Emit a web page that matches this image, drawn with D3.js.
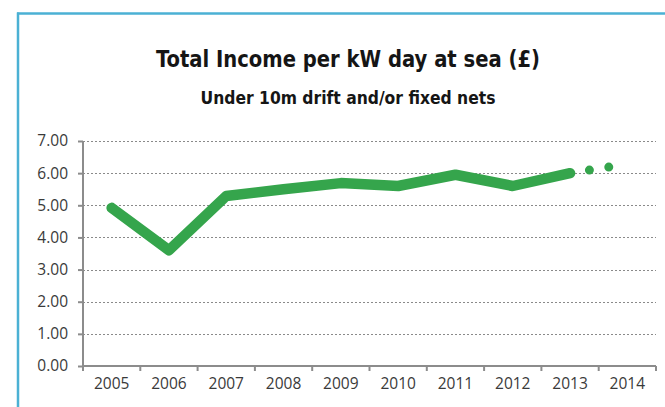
<!DOCTYPE html>
<html>
<head>
<meta charset="utf-8">
<script src="https://cdn.jsdelivr.net/npm/d3@7/dist/d3.min.js"></script>
<style>
  html, body { margin: 0; padding: 0; background: #ffffff; }
  svg { display: block; }
</style>
</head>
<body>
<svg id="chart" width="665" height="407"></svg>
<script>
// Total income per kW day at sea (£), under 10m drift and/or fixed nets
const years = ["2005", "2006", "2007", "2008", "2009", "2010", "2011", "2012", "2013", "2014"];
const income = [4.92, 3.60, 5.29, 5.50, 5.69, 5.60, 5.95, 5.60, 6.00, 6.28];
// the last year is a projection, drawn dotted from 2013
const projectedFrom = "2013";
const yTicks = [0, 1, 2, 3, 4, 5, 6, 7];

const titleText = "Total Income per kW day at sea (£)";
const subtitleText = "Under 10m drift and/or fixed nets";

const svg = d3.select("#chart");
const W = 665, H = 407;
const plot = { left: 83, right: 656, top: 141, bottom: 366 };

const green = "#35a54c";
const axisGrey = "#8c8c8c";
const labelColour = "#3a3a3a";
const labelFont = "'Open Sans', sans-serif";

// frame lines along the top and left edge
svg.append("line")
  .attr("x1", 17).attr("x2", W).attr("y1", 13.5).attr("y2", 13.5)
  .attr("stroke", "#4bb1d4").attr("stroke-width", 2.5);
svg.append("line")
  .attr("x1", 18).attr("x2", 18).attr("y1", 12.5).attr("y2", H)
  .attr("stroke", "#4bb1d4").attr("stroke-width", 2.5);

// titles
svg.append("text")
  .attr("x", 348).attr("y", 66.5)
  .attr("text-anchor", "middle")
  .attr("font-family", "'DejaVu Sans Condensed', 'DejaVu Sans', sans-serif")
  .attr("font-weight", "bold")
  .attr("font-size", 23.5)
  .attr("fill", "#151515")
  .attr("textLength", 384).attr("lengthAdjust", "spacingAndGlyphs")
  .text(titleText);
svg.append("text")
  .attr("x", 348).attr("y", 103.5)
  .attr("text-anchor", "middle")
  .attr("font-family", "'DejaVu Sans Condensed', 'DejaVu Sans', sans-serif")
  .attr("font-weight", "bold")
  .attr("font-size", 17.5)
  .attr("fill", "#151515")
  .attr("textLength", 295).attr("lengthAdjust", "spacingAndGlyphs")
  .text(subtitleText);

const x = d3.scaleBand().domain(years).range([plot.left, plot.right]).padding(0);
const y = d3.scaleLinear().domain([0, 7]).range([plot.bottom, plot.top]);

// dotted horizontal gridlines
svg.append("g")
  .selectAll("line")
  .data(yTicks.filter(d => d > 0))
  .join("line")
  .attr("x1", plot.left).attr("x2", plot.right)
  .attr("y1", d => Math.round(y(d)) + 0.5).attr("y2", d => Math.round(y(d)) + 0.5)
  .attr("stroke", "#8a8a8a")
  .attr("stroke-width", 1.2)
  .attr("stroke-dasharray", "2,2");

// y axis
const yAxis = d3.axisLeft(y)
  .tickValues(yTicks)
  .tickFormat(d3.format(".2f"))
  .tickSize(5)
  .tickPadding(10);
const gy = svg.append("g")
  .attr("transform", `translate(${plot.left},0)`)
  .call(yAxis);
gy.select(".domain").attr("stroke", axisGrey).attr("stroke-width", 2)
  .attr("d", `M0,${plot.top}V${plot.bottom}`);
gy.selectAll(".tick line").attr("stroke", axisGrey).attr("stroke-width", 2);
gy.selectAll(".tick text")
  .attr("font-family", labelFont)
  .attr("font-size", 15.5)
  .attr("fill", labelColour);

// x axis: ticks at category boundaries, labels centred in each band
const gx = svg.append("g").attr("transform", `translate(0,${plot.bottom})`);
gx.append("line")
  .attr("x1", plot.left).attr("x2", plot.right)
  .attr("y1", 0).attr("y2", 0)
  .attr("stroke", axisGrey).attr("stroke-width", 2);
const boundaries = years.map(d => x(d)).concat([x(years[years.length - 1]) + x.bandwidth()]);
gx.selectAll("line.tick")
  .data(boundaries)
  .join("line")
  .attr("class", "tick")
  .attr("x1", d => d).attr("x2", d => d)
  .attr("y1", 0).attr("y2", 5)
  .attr("stroke", axisGrey).attr("stroke-width", 2);
gx.selectAll("text")
  .data(years)
  .join("text")
  .attr("x", d => x(d) + x.bandwidth() / 2)
  .attr("y", 23)
  .attr("text-anchor", "middle")
  .attr("font-family", labelFont)
  .attr("font-size", 15.5)
  .attr("fill", labelColour)
  .text(d => d);

// income line
const points = years.map((yr, i) => ({ year: yr, value: income[i] }));
const cut = years.indexOf(projectedFrom);
const line = d3.line()
  .x(d => x(d.year) + x.bandwidth() / 2)
  .y(d => y(d.value));

svg.append("path")
  .datum(points.slice(cut))
  .attr("d", line)
  .attr("fill", "none")
  .attr("stroke", green)
  .attr("stroke-width", 9)
  .attr("stroke-linecap", "round")
  .attr("stroke-dasharray", "0,19.6");

svg.append("path")
  .datum(points.slice(0, cut + 1))
  .attr("d", line)
  .attr("fill", "none")
  .attr("stroke", green)
  .attr("stroke-width", 10.5)
  .attr("stroke-linecap", "round")
  .attr("stroke-linejoin", "round");
</script>
</body>
</html>
